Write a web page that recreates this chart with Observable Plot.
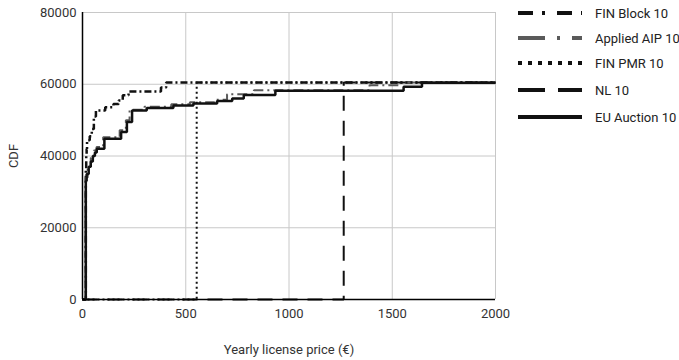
<!DOCTYPE html>
<html>
<head>
<meta charset="utf-8">
<script src="https://cdn.jsdelivr.net/npm/d3@7"></script>
<script src="https://cdn.jsdelivr.net/npm/@observablehq/plot@0.6"></script>
<style>
  body { margin: 0; background: #fff; font-family: Roboto, "Noto Sans", sans-serif; }
  #wrap { position: relative; width: 679px; height: 360px; }
  #legend { position: absolute; left: 518px; top: 0; font-size: 13px; color: #222; }
  .row { position: absolute; left: 0; height: 20px; display: flex; align-items: center; white-space: nowrap; }
  .row svg { margin-right: 13px; }
</style>
</head>
<body>
<div id="wrap"><div id="chart"></div><div id="legend"></div></div>
<script>
// Series names
const seriesNames = ["FIN Block 10", "Applied AIP 10", "FIN PMR 10", "NL 10", "EU Auction 10"];

// FIN Block 10 (step points: price, cumulative)
const finBlockX = [0, 16, 18, 20, 22, 35, 45, 55, 65, 110, 150, 175, 195, 223, 380, 405, 2000];
const finBlockY = [0, 36000, 40000, 42000, 44400, 45500, 47500, 51000, 52700, 53600, 54500, 55500, 56900, 58000, 59100, 60500, 60500];

// Applied AIP 10
const aipX = [0, 15, 25, 40, 55, 68, 100, 180, 210, 228, 300, 430, 520, 640, 700, 830, 1390, 1540, 2000];
const aipY = [0, 34000, 37000, 39500, 41500, 42500, 45200, 47200, 50000, 52900, 53700, 54400, 55000, 55700, 57200, 58300, 59700, 60500, 60500];

// FIN PMR 10
const pmrX = [0, 553, 2000];
const pmrY = [0, 60500, 60500];

// NL 10
const nlX = [0, 1265, 2000];
const nlY = [0, 60500, 60500];

// EU Auction 10
const euX = [0, 16, 20, 30, 40, 50, 60, 69, 106, 187, 215, 240, 311, 440, 537, 652, 725, 781, 934, 1555, 1644, 2000];
const euY = [0, 33000, 35000, 37000, 38500, 40000, 41000, 42000, 44800, 46700, 49500, 52700, 53400, 54100, 54600, 55300, 56000, 57000, 58200, 59300, 60400, 60400];

// Axis ticks
const xTicks = [0, 500, 1000, 1500, 2000];
const yTicks = [0, 20000, 40000, 60000, 80000];

const styles = [
  { stroke: "#111", width: 2.5, dash: "7,3,2,3", legendDash: "15,9,3,12" },
  { stroke: "#5a5a5a", width: 2, dash: "10,4,2,4", legendDash: "27,12,3,12" },
  { stroke: "#111", width: 2, dash: "2,3", legendDash: "4,6" },
  { stroke: "#111", width: 2, dash: "15,10", legendDash: "27,13" },
  { stroke: "#111", width: 2.5, dash: null, legendDash: null }
];

const toRows = (xs, ys) => xs.map((x, i) => ({ x, y: ys[i] }));
const allSeries = [toRows(finBlockX, finBlockY), toRows(aipX, aipY), toRows(pmrX, pmrY), toRows(nlX, nlY), toRows(euX, euY)];

const lineMarks = allSeries.map((data, i) => Plot.line(data, {
  x: "x", y: "y", curve: "step-after",
  stroke: styles[i].stroke, strokeWidth: styles[i].width,
  strokeDasharray: styles[i].dash, strokeLinecap: "butt", strokeLinejoin: "miter"
}));

const plain = d => String(d);

const chart = Plot.plot({
  width: 679,
  height: 360,
  marginLeft: 82,
  marginRight: 184,
  marginTop: 12,
  marginBottom: 61,
  style: { fontFamily: "Roboto, sans-serif", fontSize: "13px", color: "#333", background: "#fff" },
  x: { domain: [0, 2000] },
  y: { domain: [0, 80000] },
  marks: [
    Plot.gridX(xTicks.slice(1), { stroke: "#c8c8c8", strokeOpacity: 1, strokeWidth: 1 }),
    Plot.gridY(yTicks.slice(1), { stroke: "#c8c8c8", strokeOpacity: 1, strokeWidth: 1 }),
    Plot.axisX({ ticks: xTicks, tickSize: 0, tickPadding: 9, tickFormat: plain, label: "Yearly license price (€)", labelAnchor: "center", labelArrow: "none", labelOffset: 54 }),
    Plot.axisY({ ticks: yTicks, tickSize: 0, tickPadding: 6, tickFormat: plain, label: "CDF", labelAnchor: "center", labelArrow: "none", labelOffset: 74 }),
    ...lineMarks,
    Plot.ruleY([0], { stroke: "#000", strokeWidth: 1.5 }),
    Plot.ruleX([0], { stroke: "#000", strokeWidth: 1.5 })
  ]
});
document.getElementById("chart").appendChild(chart);

// Legend
const legend = d3.select("#legend");
const rowTops = [3, 28, 53, 80, 107];
seriesNames.forEach((name, i) => {
  const row = legend.append("div").attr("class", "row").style("top", rowTops[i] + "px");
  const svg = row.append("svg").attr("width", 64).attr("height", 8);
  svg.append("line").attr("x1", 0).attr("x2", 64).attr("y1", 4).attr("y2", 4)
    .attr("stroke", styles[i].stroke).attr("stroke-width", 4)
    .attr("stroke-dasharray", styles[i].legendDash);
  row.append("span").text(name);
});
</script>
</body>
</html>
